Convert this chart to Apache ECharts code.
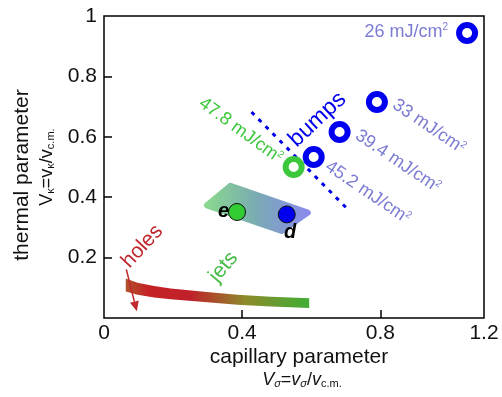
<!DOCTYPE html>
<html>
<head>
<meta charset="utf-8">
<script src="https://cdn.jsdelivr.net/npm/echarts@6.0.0/dist/echarts.min.js"></script>
<style>
html, body { margin: 0; padding: 0; background: #fff; }
#chart { width: 502px; height: 397px; }
</style>
</head>
<body>
<div id="chart"></div>
<script>
// tick positions and the text printed at them (last x label sits on the frame edge)
var xTickValues = [0, 0.4, 0.8, 1.1];
var xTickLabels = ['0', '0.4', '0.8', '1.2'];
var yTickValues = [0.2, 0.4, 0.6, 0.8, 1];
var yTickLabels = ['0.2', '0.4', '0.6', '0.8', '1'];

// bumps (open circles)
var bumpsBlue = [[1.051, 0.944], [0.790, 0.715], [0.682, 0.616], [0.607, 0.533]];
var bumpGreen = [[0.549, 0.500]];
// filled points e and d
var pointE = [[0.385, 0.351]];
var pointD = [[0.529, 0.343]];
// dashed boundary of the bumps region
var bumpBorder = [[0.427, 0.682], [0.703, 0.363]];
// shaded region between e and d
var regionDE = [[0.366, 0.438], [0.298, 0.373], [0.514, 0.288], [0.590, 0.349]];
// jets band, upper and lower edge
var jetsTop = [[0.063, 0.131], [0.097, 0.117], [0.145, 0.106], [0.193, 0.098], [0.290, 0.087], [0.386, 0.077], [0.483, 0.070], [0.594, 0.065]];
var jetsBottom = [[0.063, 0.088], [0.097, 0.077], [0.145, 0.068], [0.193, 0.062], [0.290, 0.053], [0.386, 0.044], [0.483, 0.038], [0.594, 0.033]];
// holes arrow (start, end)
var holesArrow = [[0.0646, 0.161], [0.095, 0.022]];

// annotation texts and their anchors in data units
var annoText = ['26 mJ/cm²', '33 mJ/cm²', '39.4 mJ/cm²', '45.2 mJ/cm²', '47.8 mJ/cm²', 'bumps', 'holes', 'jets', 'e', 'd'];
var annoAt = [[0.875, 0.945], [0.939, 0.631], [0.849, 0.516], [0.762, 0.413], [0.394, 0.618], [0.620, 0.655], [0.113, 0.235], [0.348, 0.167], [0.346, 0.351], [0.539, 0.280]];

var FONT = '"Liberation Sans", Arial, Helvetica, sans-serif';
var purple = '#7b7bd4';
var annoStyle = [
  { rot: 0, color: purple, size: 18 },
  { rot: -34, color: purple, size: 18 },
  { rot: -34, color: purple, size: 18 },
  { rot: -34, color: purple, size: 18 },
  { rot: -36, color: '#3cc83c', size: 18 },
  { rot: 43, color: '#0000ee', size: 23 },
  { rot: 47, color: '#c0282e', size: 21 },
  { rot: 50, color: '#44bb44', size: 21 },
  { rot: 0, color: '#000', size: 20, bold: true },
  { rot: 0, color: '#000', size: 20, bold: true }
];

function pickLabel(values, labels, v) {
  var best = 0;
  for (var i = 1; i < values.length; i++) {
    if (Math.abs(values[i] - v) < Math.abs(values[best] - v)) best = i;
  }
  return labels[best];
}

var chart = echarts.init(document.getElementById('chart'));

var subRich = {
  i: { fontFamily: FONT, fontSize: 18, fontStyle: 'italic', lineHeight: 22, verticalAlign: 'bottom', fill: '#111' },
  u: { fontFamily: FONT, fontSize: 18, lineHeight: 22, verticalAlign: 'bottom', fill: '#111' },
  n: { fontFamily: FONT, fontSize: 18, lineHeight: 22, verticalAlign: 'bottom', fill: '#111' },
  s: { fontFamily: FONT, fontSize: 11, fontStyle: 'italic', lineHeight: 12, verticalAlign: 'bottom', fill: '#111' },
  t: { fontFamily: FONT, fontSize: 11, lineHeight: 12, verticalAlign: 'bottom', fill: '#111' }
};

var option = {
  animation: false,
  grid: {
    left: 104, right: 18, top: 16, bottom: 79,
    show: true, borderColor: '#000', borderWidth: 1.5, backgroundColor: 'transparent'
  },
  xAxis: {
    type: 'value', min: 0, max: 1.1,
    axisLine: { show: false },
    splitLine: { show: false },
    axisTick: {
      show: true, inside: true, length: 8,
      customValues: [0.4, 0.8],
      lineStyle: { color: '#000', width: 1.5 }
    },
    axisLabel: {
      customValues: xTickValues,
      margin: 5,
      color: '#111', fontFamily: FONT, fontSize: 21,
      formatter: function (v) { return pickLabel(xTickValues, xTickLabels, v); }
    }
  },
  yAxis: {
    type: 'value', min: 0, max: 1,
    axisLine: { show: false },
    splitLine: { show: false },
    axisTick: {
      show: true, inside: true, length: 8,
      customValues: [0.2, 0.4, 0.6, 0.8],
      lineStyle: { color: '#000', width: 1.5 }
    },
    axisLabel: {
      customValues: yTickValues,
      margin: 7,
      color: '#111', fontFamily: FONT, fontSize: 21,
      formatter: function (v) { return pickLabel(yTickValues, yTickLabels, v); }
    }
  },
  graphic: [
    {
      type: 'text', x: 299, y: 357,
      style: { text: 'capillary parameter', font: '21px ' + FONT, fill: '#111', align: 'center', verticalAlign: 'middle' }
    },
    {
      type: 'text', x: 302, y: 378,
      style: {
        text: '{i|V}{s|σ}{n|=}{i|v}{s|σ}{n|/}{i|v}{t|c.m.}',
        rich: subRich, align: 'center', verticalAlign: 'middle'
      }
    },
    {
      type: 'text', x: 22, y: 175, rotation: Math.PI / 2,
      style: { text: 'thermal parameter', font: '21px ' + FONT, fill: '#111', align: 'center', verticalAlign: 'middle' }
    },
    {
      type: 'text', x: 45, y: 167, rotation: Math.PI / 2,
      style: {
        text: '{u|V}{t|κ}{n|=}{u|v}{t|κ}{n|/}{u|v}{t|c.m.}',
        rich: subRich, align: 'center', verticalAlign: 'middle'
      }
    }
  ],
  series: [
    {
      // shaded e-d region
      type: 'custom',
      z: 1,
      data: regionDE,
      renderItem: function (params, api) {
        if (params.dataIndex !== 0) return;
        var pts = regionDE.map(function (p) { return api.coord(p); });
        var grad = new echarts.graphic.LinearGradient(0, 0, 1, 0, [
          { offset: 0, color: '#8ada8c' },
          { offset: 0.5, color: '#7aaab4' },
          { offset: 1, color: '#8a8aee' }
        ]);
        return {
          type: 'polygon',
          shape: { points: pts },
          style: { fill: grad, stroke: grad, lineWidth: 6, lineJoin: 'round' }
        };
      }
    },
    {
      // jets band
      type: 'custom',
      z: 1,
      data: jetsTop,
      renderItem: function (params, api) {
        if (params.dataIndex !== 0) return;
        var pts = jetsTop.concat(jetsBottom.slice().reverse()).map(function (p) { return api.coord(p); });
        var grad = new echarts.graphic.LinearGradient(0, 0, 1, 0, [
          { offset: 0, color: '#b0552a' },
          { offset: 0.12, color: '#c42224' },
          { offset: 0.35, color: '#c0202a' },
          { offset: 0.65, color: '#8e8a2a' },
          { offset: 1, color: '#3fae34' }
        ]);
        return {
          type: 'polygon',
          shape: { points: pts },
          style: { fill: grad }
        };
      }
    },
    {
      type: 'line',
      z: 2,
      data: bumpBorder,
      symbol: 'none',
      lineStyle: { color: '#0000ee', width: 3, type: [4, 6] }
    },
    {
      type: 'scatter',
      z: 5,
      data: bumpsBlue,
      symbol: 'circle',
      symbolSize: 16,
      itemStyle: { color: '#fff', borderColor: '#0000f0', borderWidth: 6, opacity: 1 }
    },
    {
      type: 'scatter',
      z: 5,
      data: bumpGreen,
      symbol: 'circle',
      symbolSize: 16,
      itemStyle: { color: '#fff', borderColor: '#3cc83c', borderWidth: 6, opacity: 1 }
    },
    {
      type: 'scatter',
      z: 5,
      data: pointE,
      symbolSize: 17,
      itemStyle: { color: '#33cc33', borderColor: '#111', borderWidth: 1, opacity: 1 }
    },
    {
      type: 'scatter',
      z: 5,
      data: pointD,
      symbolSize: 17,
      itemStyle: { color: '#0000ee', borderColor: '#111', borderWidth: 1, opacity: 1 }
    },
    {
      // holes arrow
      type: 'custom',
      z: 6,
      data: holesArrow,
      renderItem: function (params, api) {
        if (params.dataIndex !== 0) return;
        var p0 = api.coord(holesArrow[0]);
        var p1 = api.coord(holesArrow[1]);
        var dx = p1[0] - p0[0], dy = p1[1] - p0[1];
        var len = Math.sqrt(dx * dx + dy * dy);
        var ux = dx / len, uy = dy / len;
        var nx = -uy, ny = ux;
        var hl = 10, hw = 4.5;
        var bx = p1[0] - ux * hl, by = p1[1] - uy * hl;
        return {
          type: 'group',
          children: [
            {
              type: 'line',
              shape: { x1: p0[0], y1: p0[1], x2: bx, y2: by },
              style: { stroke: '#c0282e', lineWidth: 1.5 }
            },
            {
              type: 'polygon',
              shape: { points: [p1, [bx + nx * hw, by + ny * hw], [bx - nx * hw, by - ny * hw]] },
              style: { fill: '#c0282e' }
            }
          ]
        };
      }
    },
    {
      // text annotations, "²" drawn as a small raised 2
      type: 'custom',
      z: 7,
      data: annoAt,
      renderItem: function (params, api) {
        var i = params.dataIndex;
        var p = api.coord(annoAt[i]);
        var st = annoStyle[i];
        var parts = annoText[i].split('²');
        var txt = '{b|' + parts[0] + '}' + (parts.length > 1 ? '{p|2}' : '');
        return {
          type: 'text',
          x: p[0], y: p[1],
          rotation: st.rot * Math.PI / 180,
          style: {
            text: txt,
            fill: st.color,
            align: 'center', verticalAlign: 'middle',
            rich: {
              b: {
                fontFamily: FONT, fontSize: st.size, fill: st.color,
                fontStyle: st.bold ? 'italic' : 'normal', fontWeight: st.bold ? 'bold' : 'normal',
                lineHeight: st.size + 2, verticalAlign: 'top'
              },
              p: { fontFamily: FONT, fontSize: 10, fill: st.color, lineHeight: 10, verticalAlign: 'top' }
            }
          }
        };
      }
    }
  ]
};

chart.setOption(option);
</script>
</body>
</html>
